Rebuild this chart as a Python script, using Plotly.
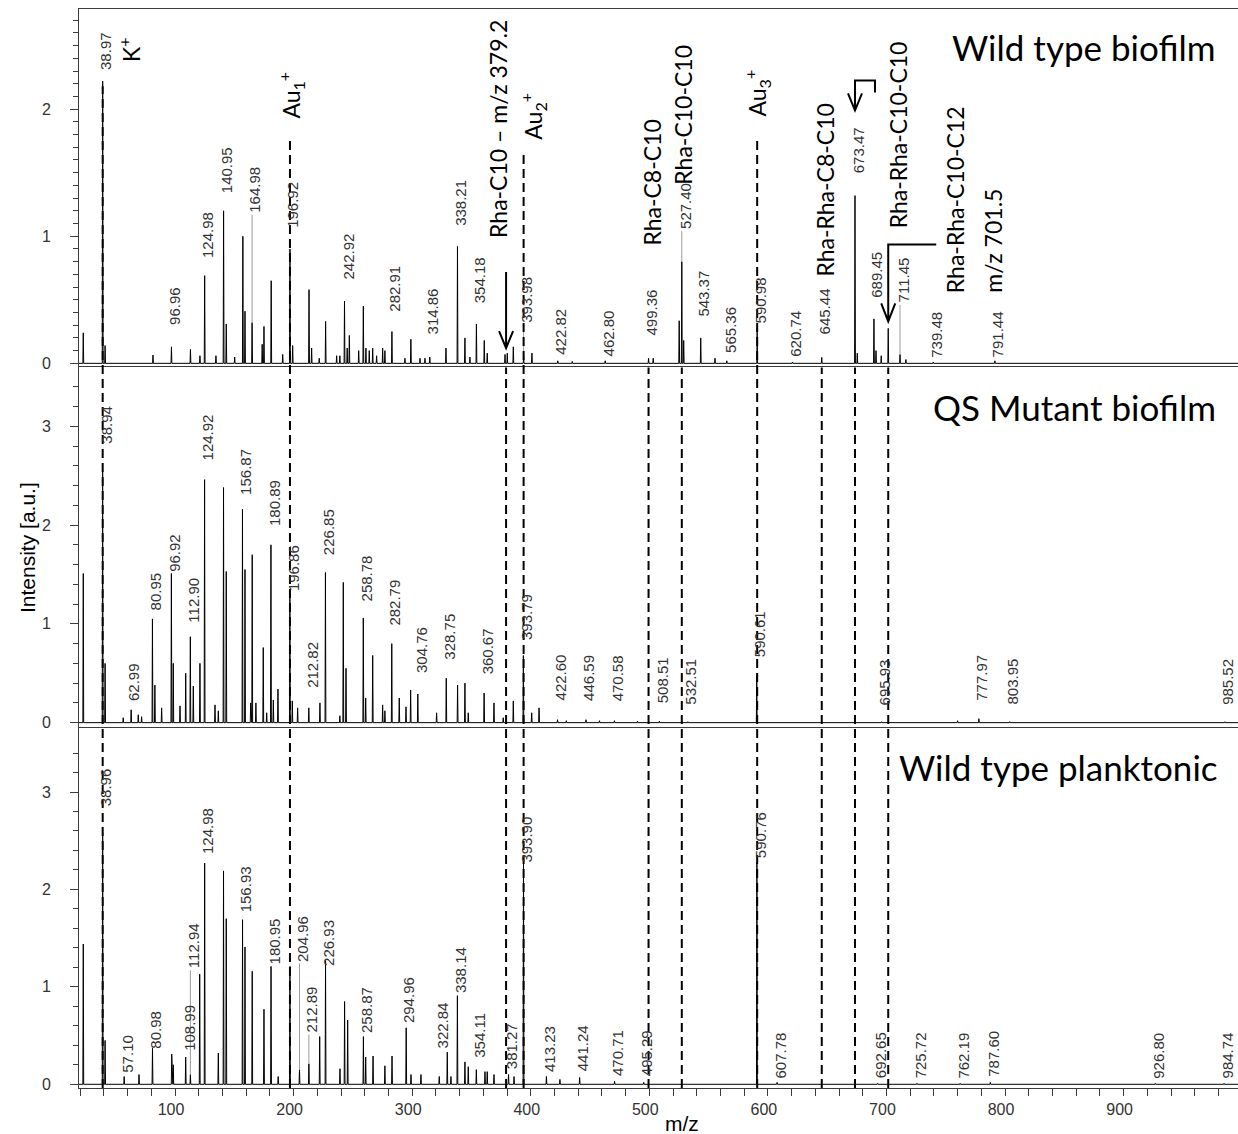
import plotly.graph_objects as go

# ---------------- spectra (m/z, intensity [a.u.]) ----------------
wtb_mz = [22.6, 38.97, 41.0, 81.4, 96.96, 113.0, 121.0, 124.98, 134.5, 140.95,
          143.2, 150.3, 157.2, 159.0, 164.98, 173.5, 175.0, 181.1, 190.8, 196.92,
          199.2, 213.0, 215.2, 221.6, 227.0, 236.3, 239.0, 242.92, 245.2, 247.0,
          254.9, 258.8, 261.0, 263.8, 266.7, 270.0, 275.1, 277.0, 282.91, 293.9,
          298.9, 306.6, 310.8, 314.86, 328.5, 338.21, 344.5, 348.7, 354.18, 360.8,
          363.3, 378.3, 380.2, 385.3, 393.98, 401.0, 422.82, 435.0, 462.80, 499.36,
          503.3, 525.2, 527.40, 529.0, 543.37, 555.4, 565.36, 590.98, 620.74, 645.44,
          673.47, 675.4, 689.45, 691.2, 695.6, 701.5, 711.45, 716.4, 739.48, 791.44]
wtb_int = [0.24, 2.22, 0.14, 0.065, 0.13, 0.11, 0.06, 0.69, 0.06, 1.20,
           0.31, 0.05, 1.00, 0.41, 0.32, 0.15, 0.29, 0.65, 0.07, 0.90,
           0.14, 0.58, 0.12, 0.04, 0.33, 0.06, 0.06, 0.49, 0.12, 0.22,
           0.10, 0.45, 0.12, 0.10, 0.12, 0.06, 0.12, 0.10, 0.25, 0.04,
           0.19, 0.04, 0.04, 0.05, 0.12, 0.92, 0.20, 0.05, 0.31, 0.18,
           0.08, 0.07, 0.08, 0.13, 0.05, 0.08, 0.02, 0.015, 0.02, 0.04,
           0.04, 0.335, 0.80, 0.18, 0.20, 0.04, 0.02, 0.28, 0.01, 0.047,
           1.32, 0.08, 0.35, 0.10, 0.06, 0.275, 0.07, 0.03, 0.01, 0.02]

qsm_mz = [22.6, 38.94, 41.0, 56.3, 62.99, 69.0, 71.8, 80.95, 83.0, 88.7,
          96.92, 98.5, 104.2, 109.0, 112.90, 115.4, 121.0, 124.92, 133.7, 136.5,
          140.9, 143.2, 156.87, 159.0, 163.8, 165.1, 168.2, 174.4, 177.3, 180.89,
          182.9, 186.8, 196.86, 198.9, 203.4, 212.82, 222.2, 226.85, 239.0, 241.9,
          244.2, 258.78, 260.8, 266.7, 275.1, 277.0, 282.79, 289.1, 294.8, 298.7,
          304.76, 320.6, 328.75, 338.3, 344.5, 347.3, 360.67, 369.0, 376.8, 385.3,
          393.79, 400.8, 407.0, 422.60, 430.0, 446.59, 458.0, 470.58, 490.0, 508.51,
          532.51, 590.61, 695.93, 760.0, 777.97, 803.95, 985.52]
qsm_int = [1.51, 2.55, 0.60, 0.05, 0.13, 0.08, 0.06, 1.05, 0.38, 0.15,
           1.51, 0.60, 0.17, 0.50, 0.87, 0.37, 0.60, 2.46, 0.18, 0.12,
           2.38, 1.53, 2.16, 1.55, 0.20, 1.70, 0.20, 0.76, 0.10, 1.80,
           0.23, 0.34, 1.31, 0.22, 0.15, 0.15, 0.20, 1.52, 0.07, 1.42,
           0.55, 1.06, 0.25, 0.68, 0.18, 0.12, 0.80, 0.25, 0.16, 0.33,
           0.29, 0.10, 0.45, 0.38, 0.40, 0.10, 0.30, 0.20, 0.05, 0.22,
           0.68, 0.10, 0.15, 0.03, 0.02, 0.03, 0.02, 0.02, 0.015, 0.015,
           0.01, 0.48, 0.01, 0.02, 0.04, 0.01, 0.01]

wtp_mz = [22.6, 38.96, 41.0, 57.10, 69.6, 80.98, 97.2, 98.5, 108.99, 112.94,
          120.8, 124.98, 136.5, 140.9, 143.2, 156.93, 159.0, 165.1, 175.0, 180.95,
          187.0, 196.9, 204.96, 212.89, 222.0, 226.93, 239.1, 243.0, 245.6, 258.87,
          260.8, 267.0, 277.0, 283.0, 294.96, 299.0, 307.4, 322.84, 329.6, 332.7,
          338.14, 344.5, 347.3, 354.11, 361.4, 363.3, 369.0, 381.27, 385.9, 393.90,
          413.23, 424.6, 441.24, 470.71, 495.29, 590.76, 607.78, 692.65, 725.72, 762.19,
          787.60, 926.80, 984.74]
wtp_int = [1.44, 2.58, 0.45, 0.08, 0.10, 0.37, 0.31, 0.20, 0.28, 0.10,
           1.13, 2.27, 0.32, 2.19, 1.70, 1.69, 1.41, 1.16, 0.77, 1.21,
           0.08, 1.21, 0.15, 0.21, 0.49, 1.27, 0.16, 0.85, 0.66, 0.49,
           0.28, 0.29, 0.19, 0.29, 0.58, 0.10, 0.10, 0.08, 0.33, 0.08,
           0.91, 0.23, 0.18, 0.15, 0.13, 0.13, 0.10, 0.10, 0.08, 2.26,
           0.08, 0.05, 0.07, 0.03, 0.02, 2.28, 0.02, 0.01, 0.01, 0.01,
           0.02, 0.01, 0.01]

# ---------------- labelled peaks (m/z) and height of label foot ----------------
wtb_lab = [38.97, 96.96, 124.98, 140.95, 164.98, 196.92, 242.92, 282.91, 314.86, 338.21,
           354.18, 393.98, 422.82, 462.80, 499.36, 527.40, 543.37, 565.36, 590.98, 620.74,
           645.44, 673.47, 689.45, 711.45, 739.48, 791.44]
wtb_lab_y = [2.29, 0.29, 0.81, 1.32, 1.17, 1.05, 0.64, 0.39, 0.21, 1.07,
             0.46, 0.30, 0.05, 0.04, 0.20, 1.04, 0.35, 0.065, 0.30, 0.04,
             0.21, 1.48, 0.50, 0.46, 0.03, 0.03]

qsm_lab = [38.94, 62.99, 80.95, 96.92, 112.90, 124.92, 156.87, 180.89, 196.86, 212.82,
           226.85, 258.78, 282.79, 304.76, 328.75, 360.67, 393.79, 422.60, 446.59, 470.58,
           508.51, 532.51, 590.61, 695.93, 777.97, 803.95, 985.52]
qsm_lab_y = [2.80, 0.20, 1.12, 1.51, 0.99, 2.63, 2.29, 1.97, 1.31, 0.33,
             1.68, 1.21, 0.96, 0.48, 0.62, 0.47, 0.82, 0.20, 0.20, 0.20,
             0.18, 0.16, 0.64, 0.15, 0.20, 0.16, 0.16]

wtp_lab = [38.96, 57.10, 80.98, 108.99, 112.94, 124.98, 156.93, 180.95, 204.96, 212.89,
           226.93, 258.87, 294.96, 322.84, 338.14, 354.11, 381.27, 393.90, 413.23, 441.24,
           470.71, 495.29, 590.76, 607.78, 692.65, 725.72, 762.19, 787.60, 926.80, 984.74]
wtp_lab_y = [2.83, 0.10, 0.35, 0.32, 1.17, 2.34, 1.74, 1.21, 1.24, 0.51,
             1.19, 0.51, 0.61, 0.35, 0.92, 0.25, 0.13, 2.25, 0.11, 0.11,
             0.06, 0.06, 2.30, 0.04, 0.04, 0.04, 0.04, 0.06, 0.04, 0.04]

panel_titles = ["Wild type biofilm", "QS Mutant biofilm", "Wild type planktonic"]

# assigned species: name, m/z of marker line, start of the line in the top panel (None = below it)
species_names = ["K<sup>+</sup>", "Au<sub>1</sub><sup>+</sup>", "Rha-C10 – m/z 379.2",
                 "Au<sub>2</sub><sup>+</sup>", "Rha-C8-C10", "Rha-C10-C10",
                 "Au<sub>3</sub><sup>+</sup>", "Rha-Rha-C8-C10", "Rha-Rha-C10-C10",
                 "Rha-Rha-C10-C12"]
species_mz = [38.97, 196.92, 379.2, 393.98, 499.36, 527.40, 590.98, 645.44, 673.47, 701.5]
species_line_top = [2.18, 1.78, None, 1.66, None, None, 1.76, None, None, None]

x_tick_vals = [100, 200, 300, 400, 500, 600, 700, 800, 900]

# ---------------- layout geometry ----------------
W, H = 1238, 1134
ML, MR, MT, MB = 79, 0, 9, 46
PLOT_W = W - ML - MR
PLOT_H = H - MT - MB
X_RANGE = [19, 996.5]
Y_RANGES = [[-0.017, 2.788], [-0.044, 3.595], [-0.038, 3.657]]
Y_DOMAINS = [[0.6696, 1.0], [0.33457, 0.66775], [0.0, 0.33364]]
MINOR_STEP = [0.1, 0.2, 0.2]
MINOR_MAX = [2.7, 3.4, 3.4]

spectra = [(wtb_mz, wtb_int), (qsm_mz, qsm_int), (wtp_mz, wtp_int)]
labels = [(wtb_lab, wtb_lab_y), (qsm_lab, qsm_lab_y), (wtp_lab, wtp_lab_y)]

LABEL_FONT = dict(family="Liberation Sans, Arial, sans-serif", size=15, color="#333333")
BIG_FONT = "Lato, Open Sans, sans-serif"


def stick(mz, it, hw=0.35):
    pts = sorted(zip(mz, it))
    xs, ys = [X_RANGE[0]], [0.0]
    for m, h in pts:
        xs += [m - hw, m, m + hw]
        ys += [0.0, h, 0.0]
    xs.append(X_RANGE[1])
    ys.append(0.0)
    return xs, ys


def px_per_unit(i):
    d = Y_DOMAINS[i]
    r = Y_RANGES[i]
    return PLOT_H * (d[1] - d[0]) / (r[1] - r[0])


def to_paper(i, v):
    d = Y_DOMAINS[i]
    r = Y_RANGES[i]
    return d[0] + (v - r[0]) / (r[1] - r[0]) * (d[1] - d[0])


fig = go.Figure()
annotations = []
shapes = []

for i, (mz, it) in enumerate(spectra):
    xs, ys = stick(mz, it)
    sfx = "" if i == 0 else str(i + 1)
    fig.add_trace(go.Scatter(x=xs, y=ys, mode="lines", xaxis="x" + sfx, yaxis="y" + sfx,
                             line=dict(color="black", width=1), hoverinfo="skip",
                             showlegend=False))
    # peak labels
    lab, lab_y = labels[i]
    for m, ly in zip(lab, lab_y):
        annotations.append(dict(x=m, y=ly, xref="x" + sfx, yref="y" + sfx,
                                text=f"{m:.2f}", textangle=-90, showarrow=False,
                                xanchor="center", yanchor="bottom", xshift=3,
                                font=LABEL_FONT))
        # leader line for labels lifted well above their peak
        k = min(range(len(mz)), key=lambda j: abs(mz[j] - m))
        h = it[k]
        if (ly - h) * px_per_unit(i) > 28:
            shapes.append(dict(type="line", xref="x" + sfx, yref="y" + sfx,
                               x0=m, x1=m, y0=h, y1=ly,
                               line=dict(color="#9a9a9a", width=1)))

# dashed marker lines
for m, top in zip(species_mz, species_line_top):
    y1 = to_paper(0, top) if top is not None else Y_DOMAINS[1][1]
    shapes.append(dict(type="line", xref="x3", yref="paper", x0=m, x1=m, y0=0, y1=y1,
                       line=dict(color="black", width=2, dash="9px,5px"), layer="above"))

# species labels (rotated, top panel): position (m/z, intensity of text foot)
species_label_pos = [(62, 2.36), (197.4, 1.91), (372.3, 0.97), (401.9, 1.74),
                     (502.2, 0.91), (528.4, 1.39), (590.8, 1.93), (648.1, 0.67),
                     (709.7, 1.05), (757.8, 0.54)]
for name, (px, py) in zip(species_names, species_label_pos):
    annotations.append(dict(x=px, y=py, xref="x", yref="y", text=name, textangle=-90,
                            showarrow=False, xanchor="center", yanchor="bottom",
                            font=dict(family=BIG_FONT, size=23, color="black")))
annotations.append(dict(x=789.8, y=0.54, xref="x", yref="y", text="m/z 701.5",
                        textangle=-90, showarrow=False, xanchor="center", yanchor="bottom",
                        font=dict(family=BIG_FONT, size=23, color="black")))

# arrows (pixel-sized paths anchored on the data)
arrow_defs = [
    (379.2, 0.12, "M0,0 L0,76 M-7,17 L0,0 L7,17"),
    (673.47, 1.99, "M0,0 L0,30 L20,30 L20,18 M-7,17 L0,0 L7,17"),
    (701.5, 0.33, "M0,0 L0,77 L48,77 M-7,18 L0,0 L7,18"),
]
for ax_, ay_, path in arrow_defs:
    shapes.append(dict(type="path", xref="x", yref="y", xsizemode="pixel",
                       ysizemode="pixel", xanchor=ax_, yanchor=ay_, path=path,
                       line=dict(color="black", width=2)))

# panel titles
title_pos = [(0.983, 0.965), (0.983, 0.631), (0.9845, 0.2975)]
title_size = [35, 35, 35]
for t, (tx, ty), fs in zip(panel_titles, title_pos, title_size):
    annotations.append(dict(x=tx, y=ty, xref="paper", yref="paper", text=t,
                            showarrow=False, xanchor="right", yanchor="middle",
                            font=dict(family=BIG_FONT, size=fs, color="black")))

# axis titles
annotations.append(dict(x=(27 - ML) / PLOT_W, y=(MT + PLOT_H - 548) / PLOT_H,
                        xref="paper", yref="paper", text="Intensity [a.u.]",
                        textangle=-90, showarrow=False, xanchor="center", yanchor="middle",
                        font=dict(family="Liberation Sans, Arial, sans-serif", size=21,
                                  color="black")))
annotations.append(dict(x=(682 - ML) / PLOT_W, y=(MT + PLOT_H - 1123) / PLOT_H,
                        xref="paper", yref="paper", text="m/z", showarrow=False,
                        xanchor="center", yanchor="middle",
                        font=dict(family="Liberation Sans, Arial, sans-serif", size=21,
                                  color="black")))

TICK_FONT = dict(family="Liberation Sans, Arial, sans-serif", size=16, color="#333333")
AX_LINE = "#3c3c3c"

layout = dict(width=W, height=H, margin=dict(l=ML, r=MR, t=MT, b=MB, autoexpand=False),
              paper_bgcolor="white", plot_bgcolor="white", showlegend=False,
              annotations=annotations, shapes=shapes)

for i in range(3):
    sfx = "" if i == 0 else str(i + 1)
    ysfx = "y" + sfx
    xa = dict(domain=[0, 1], range=X_RANGE, anchor=ysfx, showgrid=False, zeroline=False,
              showline=True, mirror=True, linecolor=AX_LINE, linewidth=1, automargin=False)
    if i == 2:
        xa.update(tickmode="array", tickvals=x_tick_vals, ticks="outside", ticklen=7,
                  tickcolor=AX_LINE, tickfont=TICK_FONT, ticklabelshift=-4,
                  minor=dict(tickmode="linear", tick0=0, dtick=20, ticks="outside",
                             ticklen=7, tickcolor=AX_LINE))
    else:
        xa.update(showticklabels=False, ticks="")
    layout["xaxis" + sfx] = xa
    n_minor = int(round(MINOR_MAX[i] / MINOR_STEP[i]))
    minor_vals = [round(k * MINOR_STEP[i], 2) for k in range(1, n_minor + 1)]
    ya = dict(domain=Y_DOMAINS[i], range=Y_RANGES[i], anchor="x" + sfx, showgrid=False,
              zeroline=False, showline=True, mirror=True, linecolor=AX_LINE, linewidth=1,
              tickmode="linear", tick0=0, dtick=1, ticks="outside", ticklen=8,
              tickcolor=AX_LINE, tickfont=TICK_FONT, ticklabelstandoff=16, automargin=False,
              minor=dict(tickmode="array", tickvals=minor_vals, ticks="outside",
                         ticklen=5, tickcolor=AX_LINE))
    layout["yaxis" + sfx] = ya

fig.update_layout(**layout)
fig.write_html("out.html", config={"displayModeBar": False},
               post_script="document.body.style.margin='0';document.body.style.padding='0';")
